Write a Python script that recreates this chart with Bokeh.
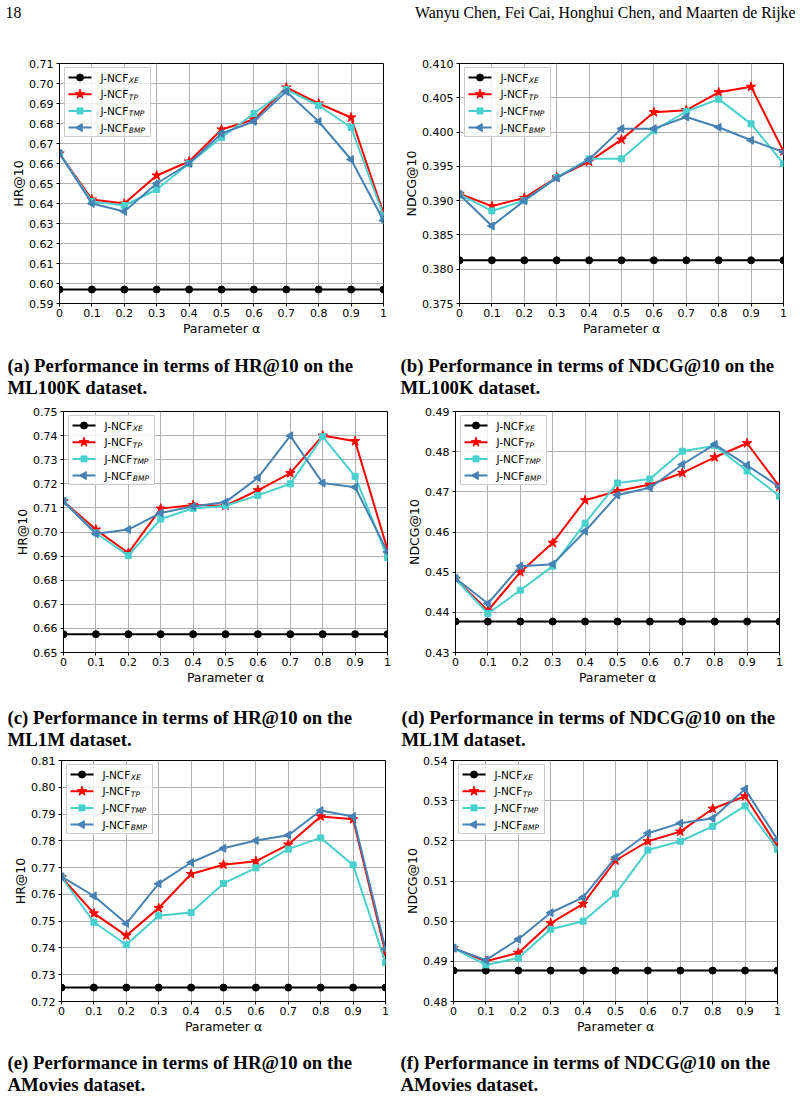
import math
from bokeh.plotting import figure
from bokeh.layouts import column, row
from bokeh.models import Range1d, FixedTicker
from bokeh.core.properties import value
from bokeh.embed import file_html
from bokeh.resources import INLINE

# ---------------- data ----------------
alpha = [0, 0.1, 0.2, 0.3, 0.4, 0.5, 0.6, 0.7, 0.8, 0.9, 1]
alpha_labels = ["0", "0.1", "0.2", "0.3", "0.4", "0.5", "0.6", "0.7", "0.8", "0.9", "1"]

series_names = ["J-NCF", "J-NCF", "J-NCF", "J-NCF"]
series_subs = ["XE", "TP", "TMP", "BMP"]

# (a) HR@10, ML100K
a_xe = [0.597, 0.597, 0.597, 0.597, 0.597, 0.597, 0.597, 0.597, 0.597, 0.597, 0.597]
a_tp = [0.665, 0.642, 0.640, 0.654, 0.661, 0.677, 0.682, 0.698, 0.690, 0.683, 0.635]
a_tmp = [0.665, 0.641, 0.639, 0.647, 0.660, 0.673, 0.685, 0.697, 0.689, 0.678, 0.634]
a_bmp = [0.665, 0.640, 0.636, 0.650, 0.660, 0.675, 0.681, 0.696, 0.681, 0.662, 0.6315]
a_yticks = [0.59, 0.60, 0.61, 0.62, 0.63, 0.64, 0.65, 0.66, 0.67, 0.68, 0.69, 0.70, 0.71]
a_ylabels = ["0.59", "0.60", "0.61", "0.62", "0.63", "0.64", "0.65", "0.66", "0.67", "0.68", "0.69", "0.70", "0.71"]

# (b) NDCG@10, ML100K
b_xe = [0.3813, 0.3813, 0.3813, 0.3813, 0.3813, 0.3813, 0.3813, 0.3813, 0.3813, 0.3813, 0.3813]
b_tp = [0.3910, 0.3892, 0.3904, 0.3934, 0.3957, 0.3989, 0.4029, 0.4032, 0.4058, 0.4066, 0.3972]
b_tmp = [0.3909, 0.3885, 0.3900, 0.3934, 0.3961, 0.3961, 0.4002, 0.4030, 0.4048, 0.4012, 0.3954]
b_bmp = [0.3909, 0.3863, 0.3900, 0.3933, 0.3960, 0.4005, 0.4005, 0.4022, 0.4007, 0.3988, 0.3971]
b_yticks = [0.375, 0.380, 0.385, 0.390, 0.395, 0.400, 0.405, 0.410]
b_ylabels = ["0.375", "0.380", "0.385", "0.390", "0.395", "0.400", "0.405", "0.410"]

# (c) HR@10, ML1M
c_xe = [0.6576, 0.6576, 0.6576, 0.6576, 0.6576, 0.6576, 0.6576, 0.6576, 0.6576, 0.6576, 0.6576]
c_tp = [0.7127, 0.7010, 0.6913, 0.7097, 0.7112, 0.7109, 0.7173, 0.7244, 0.7400, 0.7377, 0.6927]
c_tmp = [0.7127, 0.6996, 0.6902, 0.7054, 0.7098, 0.7109, 0.7152, 0.7200, 0.7396, 0.7231, 0.6894]
c_bmp = [0.7127, 0.6993, 0.7010, 0.7079, 0.7106, 0.7124, 0.7225, 0.7399, 0.7203, 0.7186, 0.6917]
c_yticks = [0.65, 0.66, 0.67, 0.68, 0.69, 0.70, 0.71, 0.72, 0.73, 0.74, 0.75]
c_ylabels = ["0.65", "0.66", "0.67", "0.68", "0.69", "0.70", "0.71", "0.72", "0.73", "0.74", "0.75"]

# (d) NDCG@10, ML1M
d_xe = [0.4377, 0.4377, 0.4377, 0.4377, 0.4377, 0.4377, 0.4377, 0.4377, 0.4377, 0.4377, 0.4377]
d_tp = [0.4483, 0.4404, 0.4500, 0.4573, 0.4679, 0.4702, 0.4718, 0.4747, 0.4786, 0.4821, 0.4713]
d_tmp = [0.4483, 0.4397, 0.4455, 0.4515, 0.4622, 0.4722, 0.4732, 0.4801, 0.4815, 0.4752, 0.4689]
d_bmp = [0.4485, 0.4422, 0.4515, 0.4520, 0.4602, 0.4692, 0.4710, 0.4768, 0.4818, 0.4766, 0.4712]
d_yticks = [0.43, 0.44, 0.45, 0.46, 0.47, 0.48, 0.49]
d_ylabels = ["0.43", "0.44", "0.45", "0.46", "0.47", "0.48", "0.49"]

# (e) HR@10, AMovies
e_xe = [0.7252, 0.7252, 0.7252, 0.7252, 0.7252, 0.7252, 0.7252, 0.7252, 0.7252, 0.7252, 0.7252]
e_tp = [0.7664, 0.7529, 0.7446, 0.7549, 0.7676, 0.7711, 0.7724, 0.7786, 0.7891, 0.7881, 0.7382]
e_tmp = [0.7664, 0.7496, 0.7412, 0.7520, 0.7532, 0.7641, 0.7699, 0.7769, 0.7811, 0.7710, 0.7345]
e_bmp = [0.7666, 0.7594, 0.7491, 0.7640, 0.7719, 0.7772, 0.7801, 0.7821, 0.7913, 0.7891, 0.7396]
e_yticks = [0.72, 0.73, 0.74, 0.75, 0.76, 0.77, 0.78, 0.79, 0.80, 0.81]
e_ylabels = ["0.72", "0.73", "0.74", "0.75", "0.76", "0.77", "0.78", "0.79", "0.80", "0.81"]

# (f) NDCG@10, AMovies
f_xe = [0.4877, 0.4877, 0.4877, 0.4877, 0.4877, 0.4877, 0.4877, 0.4877, 0.4877, 0.4877, 0.4877]
f_tp = [0.4933, 0.4900, 0.4921, 0.4995, 0.5043, 0.5151, 0.5199, 0.5223, 0.5280, 0.5311, 0.5186]
f_tmp = [0.4932, 0.4891, 0.4908, 0.4980, 0.5000, 0.5068, 0.5177, 0.5199, 0.5236, 0.5287, 0.5179]
f_bmp = [0.4933, 0.4903, 0.4955, 0.5021, 0.5059, 0.5159, 0.5219, 0.5244, 0.5256, 0.5329, 0.5203]
f_yticks = [0.48, 0.49, 0.50, 0.51, 0.52, 0.53, 0.54]
f_ylabels = ["0.48", "0.49", "0.50", "0.51", "0.52", "0.53", "0.54"]

header_left = "18"
header_right = "Wanyu Chen, Fei Cai, Honghui Chen, and Maarten de Rijke"
captions = [
    ("(a) Performance in terms of HR@10 on the", "ML100K dataset."),
    ("(b) Performance in terms of NDCG@10 on the", "ML100K dataset."),
    ("(c) Performance in terms of HR@10 on the", "ML1M dataset."),
    ("(d) Performance in terms of NDCG@10 on the", "ML1M dataset."),
    ("(e) Performance in terms of HR@10 on the", "AMovies dataset."),
    ("(f) Performance in terms of NDCG@10 on the", "AMovies dataset."),
]

# ---------------- styles ----------------
COLORS = ["#000000", "#ff0000", "#48d1cc", "#4682b4"]
MARKERS = ["circle", "star", "square", "triangle"]
MSIZES = [7, 10, 6, 8]
MANGLES = [0, 0, 0, math.pi / 2]
SANS = "DejaVu Sans"
SERIF = "Liberation Serif"


def make_panel(series, yticks, ylabels, ylabel, height, bl, br, bt, bb):
    y0, y1 = yticks[0], yticks[-1]
    p = figure(width=400, height=height, x_range=Range1d(0, 1), y_range=Range1d(y0, y1),
               output_backend="svg", toolbar_location=None,
               min_border_left=bl, min_border_right=br, min_border_top=bt, min_border_bottom=bb)
    p.background_fill_color = "white"
    p.border_fill_color = "white"
    p.outline_line_color = "black"
    p.outline_line_alpha = 1
    p.outline_line_width = 1

    xt = FixedTicker(ticks=alpha)
    yt = FixedTicker(ticks=yticks)
    p.xaxis.ticker = xt
    p.yaxis.ticker = yt
    p.xgrid.ticker = xt
    p.ygrid.ticker = yt
    p.xaxis.major_label_overrides = {a: l for a, l in zip(alpha, alpha_labels)}
    p.yaxis.major_label_overrides = {a: l for a, l in zip(yticks, ylabels)}
    for g in (p.xgrid, p.ygrid):
        g.grid_line_color = "#b0b0b0"
        g.grid_line_width = 1
    for ax in (p.xaxis, p.yaxis):
        ax.axis_line_color = "black"
        ax.major_tick_line_color = "black"
        ax.major_tick_in = 0
        ax.major_tick_out = 3
        ax.minor_tick_line_color = None
        ax.major_label_text_font = SANS
        ax.major_label_text_font_size = "11px"
        ax.major_label_text_color = "black"
        ax.axis_label_text_font = SANS
        ax.axis_label_text_font_size = "12.5px"
        ax.axis_label_text_font_style = "normal"
        ax.axis_label_text_color = "black"
    p.xaxis.major_label_standoff = 2
    p.yaxis.major_label_standoff = 3
    p.xaxis.axis_label_standoff = 1
    p.yaxis.axis_label_standoff = 0
    p.xaxis.axis_label = "Parameter α"
    p.yaxis.axis_label = ylabel

    for vals, c, m, s, ang in zip(series, COLORS, MARKERS, MSIZES, MANGLES):
        p.line(alpha, vals, line_color=c, line_width=2)
        p.scatter(alpha, vals, marker=m, size=s, angle=ang, fill_color=c, line_color=c)

    # legend (drawn in frame pixel offsets converted to data space)
    W = 400 - bl - br
    H = height - bt - bb

    def dx(px):
        return px / W

    def dy(py):
        return y1 - py / H * (y1 - y0)

    p.quad(left=[dx(5)], right=[dx(91)], top=[dy(4)], bottom=[dy(73)],
           fill_color="white", fill_alpha=0.8, line_color="#cccccc", line_width=1)
    rows_off = [14, 30.7, 47.4, 64.1]
    for r, c, m, s, ang, nm, sub in zip(rows_off, COLORS, MARKERS, MSIZES, MANGLES,
                                         series_names, series_subs):
        p.line([dx(9), dx(32)], [dy(r), dy(r)], line_color=c, line_width=2)
        p.scatter([dx(20.5)], [dy(r)], marker=m, size=s, angle=ang, fill_color=c, line_color=c)
        p.text([dx(41)], [dy(r)], text=[nm], text_font=value(SANS), text_font_size="10.5px",
               text_baseline="middle", text_align="left", text_color="black")
        p.text([dx(69.3)], [dy(r + 3)], text=[sub], text_font=value(SANS), text_font_size="7.5px",
               text_font_style="italic", text_baseline="middle", text_align="left",
               text_color="black")
    return p


def text_fig(height, items):
    p = figure(width=800, height=height, x_range=Range1d(0, 800), y_range=Range1d(height, 0),
               output_backend="svg", toolbar_location=None, title=None,
               min_border_left=0, min_border_right=0, min_border_top=0, min_border_bottom=0)
    p.axis.visible = False
    p.grid.visible = False
    p.outline_line_color = None
    p.background_fill_color = "white"
    p.border_fill_color = "white"
    for x, y, t, font, size, style, align in items:
        p.text([x], [y], text=[t], text_font=value(font), text_font_size=size,
               text_font_style=style, text_align=align, text_baseline="middle",
               text_color="black")
    return p


header = text_fig(40, [
    (5, 11.5, header_left, SERIF, "15.8px", "normal", "left"),
    (795, 11.5, header_right, SERIF, "15.8px", "normal", "right"),
])

pa = make_panel([a_xe, a_tp, a_tmp, a_bmp], a_yticks, a_ylabels, "HR@10", 305, 59, 17, 23, 42)
pb = make_panel([b_xe, b_tp, b_tmp, b_bmp], b_yticks, b_ylabels, "NDCG@10", 305, 59, 17, 23, 42)
pc = make_panel([c_xe, c_tp, c_tmp, c_bmp], c_yticks, c_ylabels, "HR@10", 295, 63, 13, 11, 43)
pd_ = make_panel([d_xe, d_tp, d_tmp, d_bmp], d_yticks, d_ylabels, "NDCG@10", 295, 55, 21, 11, 43)
pe = make_panel([e_xe, e_tp, e_tmp, e_bmp], e_yticks, e_ylabels, "HR@10", 295, 61, 15, 10, 44)
pf = make_panel([f_xe, f_tp, f_tmp, f_bmp], f_yticks, f_ylabels, "NDCG@10", 295, 53, 23, 10, 44)

CAP_SIZE = "18.8px"


def cap_fig(height, left, right, xl, xr, c1, c2):
    return text_fig(height, [
        (xl, c1, left[0], SERIF, CAP_SIZE, "bold", "left"),
        (xl, c2, left[1], SERIF, CAP_SIZE, "bold", "left"),
        (xr, c1, right[0], SERIF, CAP_SIZE, "bold", "left"),
        (xr, c2, right[1], SERIF, CAP_SIZE, "bold", "left"),
    ])


cap1 = cap_fig(55, captions[0], captions[1], 7, 400, 20, 42)
cap2 = cap_fig(55, captions[2], captions[3], 7, 401, 22, 44)
cap3 = cap_fig(52, captions[4], captions[5], 7, 400, 17, 39)

layout = column(header, row(pa, pb), cap1, row(pc, pd_), cap2, row(pe, pf), cap3)

open("out.html", "w").write(file_html(layout, INLINE))
